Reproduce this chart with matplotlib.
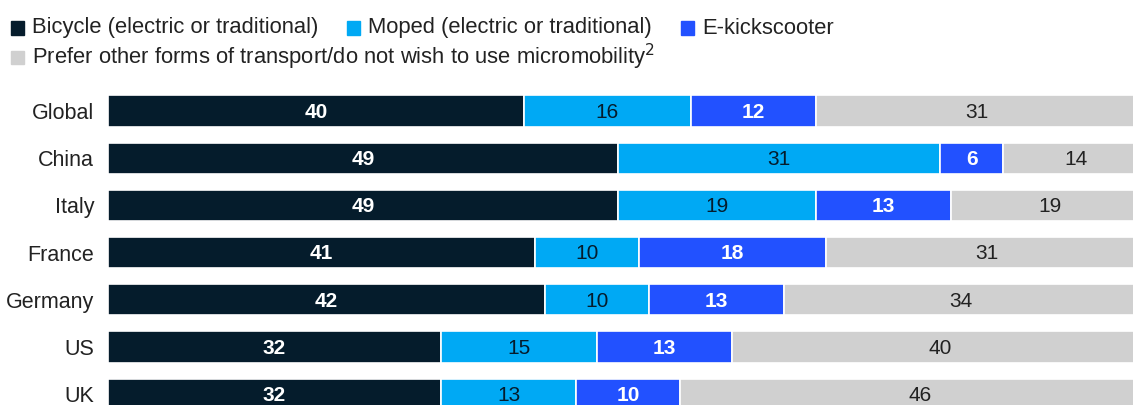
import numpy as np
import matplotlib
matplotlib.use("Agg")
import matplotlib.pyplot as plt
from matplotlib.patches import Rectangle

plt.rcParams['font.family'] = ['Liberation Sans', 'DejaVu Sans']

countries = ["Global", "China", "Italy", "France", "Germany", "US", "UK"]
bicycle = [40, 49, 49, 41, 42, 32, 32]
moped = [16, 31, 19, 10, 10, 15, 13]
kickscooter = [12, 6, 13, 18, 13, 13, 10]
other = [31, 14, 19, 31, 34, 40, 46]

series_names = ["Bicycle (electric or traditional)",
                "Moped (electric or traditional)",
                "E-kickscooter",
                "Prefer other forms of transport/do not wish to use micromobility$^2$"]
colors = ["#051c2c", "#00a9f4", "#2251ff", "#d0d0d0"]
text_colors = ["white", "#051c2c", "white", "#222222"]
weights = ["bold", "normal", "bold", "normal"]

W, H = 1133, 405
fig = plt.figure(figsize=(W / 100, H / 100), dpi=100)
# axes: bars start at x=108px, run off the right edge and the bottom
ax = fig.add_axes([108 / W, 0, 1 - 108 / W, (405 - 87.4) / H])

y = np.arange(len(countries))
left = np.zeros(len(countries))
for vals, col, tcol, w in zip([bicycle, moped, kickscooter, other], colors, text_colors, weights):
    vals = np.array(vals)
    ax.barh(y, vals, left=left, height=0.66, color=col, edgecolor="white", linewidth=1.2)
    for yi, l, v in zip(y, left, vals):
        ax.text(l + v / 2, yi + 0.03, str(v), ha="center", va="center",
                color=tcol, fontsize=15, fontweight=w)
    left += vals

ax.set_xlim(0, 98.5)
ax.set_ylim(6.23, -0.5)
ax.set_yticks(y)
ax.set_yticklabels(countries, fontsize=15.5, color="#222222")
ax.tick_params(axis="y", length=0, pad=10)
ax.set_xticks([])
for s in ax.spines.values():
    s.set_visible(False)

# legend drawn by hand, two rows
fig.canvas.draw()
renderer = fig.canvas.get_renderer()
sq = 13
rows = [(28, [0, 1, 2]), (57, [3])]
for ypx, idx in rows:
    x = 11
    for i in idx:
        fig.patches.append(Rectangle((x / W, 1 - (ypx + sq / 2) / H), sq / W, sq / H,
                                     transform=fig.transFigure, color=colors[i]))
        t = fig.text((x + sq + 8) / W, 1 - ypx / H, series_names[i], fontsize=15.8,
                     color="#222222", va="center", ha="left")
        bb = t.get_window_extent(renderer)
        x = bb.x1 + 29

fig.savefig("out.png", dpi=100)
